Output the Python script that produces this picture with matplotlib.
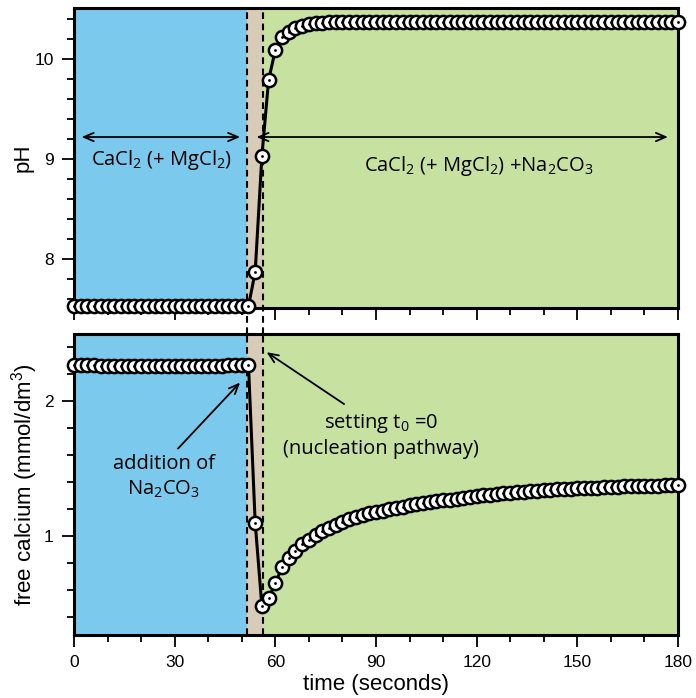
import matplotlib
matplotlib.use("Agg")
import matplotlib.pyplot as plt
from matplotlib.ticker import MultipleLocator

plt.rcParams['font.family'] = ['Liberation Sans', 'DejaVu Sans']
plt.rcParams['mathtext.default'] = 'regular'

# ---------------- data ----------------
time_s = list(range(0, 181, 2))

ph_values = [7.53] * 27 + [
    7.87, 9.03, 9.79, 10.09, 10.22, 10.27, 10.31, 10.33, 10.35, 10.36, 10.365,
] + [10.37] * 53

calcium_values = [
    2.27, 2.27, 2.27, 2.27, 2.26, 2.26, 2.26, 2.26, 2.26, 2.26, 2.26, 2.26, 2.26, 2.26,
    2.26, 2.26, 2.26, 2.26, 2.26, 2.26, 2.26, 2.26, 2.26, 2.27, 2.27, 2.27, 2.27,
    1.10, 0.48, 0.54, 0.65, 0.77, 0.84, 0.89, 0.94, 0.975, 1.005, 1.035, 1.06, 1.085,
    1.105, 1.125, 1.14, 1.155, 1.17, 1.18, 1.19, 1.20, 1.21, 1.22, 1.23, 1.237, 1.244,
    1.251, 1.258, 1.265, 1.272, 1.279, 1.285, 1.291, 1.297, 1.302, 1.307, 1.312, 1.317,
    1.322, 1.326, 1.330, 1.334, 1.338, 1.341, 1.344, 1.347, 1.350, 1.353, 1.355, 1.357,
    1.359, 1.361, 1.363, 1.365, 1.367, 1.369, 1.371, 1.372, 1.373, 1.374, 1.375, 1.377,
    1.378, 1.38,
]

t_addition = 51.7     # Na2CO3 added
t_zero = 56.2         # t0 = 0 (nucleation pathway)
x_limits = (0, 180)
x_ticks = [0, 30, 60, 90, 120, 150, 180]
ph_limits = (7.51, 10.51)
ph_ticks = [8, 9, 10]
ca_limits = (0.267, 2.5)
ca_ticks = [1, 2]

label_left = "CaCl$_2$ (+ MgCl$_2$)"
label_right = "CaCl$_2$ (+ MgCl$_2$) +Na$_2$CO$_3$"
label_addition = "addition of\nNa$_2$CO$_3$"
label_t0 = "setting t$_0$ =0\n(nucleation pathway)"

# ---------------- styling ----------------
c_blue = '#7BC9EC'
c_tan = '#D8CBB8'
c_green = '#C6E1A0'
note_font = ['Open Sans', 'DejaVu Sans']

fig = plt.figure(figsize=(6.96, 6.98), dpi=100)
ax1 = fig.add_axes([0.1063, 0.5587, 0.8678, 0.4298])
ax2 = fig.add_axes([0.1063, 0.0903, 0.8678, 0.4312])


def style(ax, ylim, yticks):
    ax.set_xlim(*x_limits)
    ax.set_ylim(*ylim)
    ax.axvspan(x_limits[0], t_addition, color=c_blue, lw=0, zorder=0)
    ax.axvspan(t_addition, t_zero, color=c_tan, lw=0, zorder=0)
    ax.axvspan(t_zero, x_limits[1], color=c_green, lw=0, zorder=0)
    ax.set_xticks(x_ticks)
    ax.set_yticks(yticks)
    ax.xaxis.set_minor_locator(MultipleLocator(10))
    ax.yaxis.set_minor_locator(MultipleLocator(0.2))
    ax.tick_params(which='major', direction='out', length=8.5, width=1.3,
                   labelsize=12.5, pad=6)
    ax.tick_params(which='minor', direction='out', length=5, width=1.3)
    for s in ax.spines.values():
        s.set_linewidth(2.2)


def draw_series(ax, xs, ys):
    ax.plot(xs, ys, color='k', lw=2.2, zorder=3)
    for i, (x, y) in enumerate(zip(xs, ys)):
        z = 5 + i * 0.01
        ax.plot(x, y, 'o', ms=9.5, mfc='white', mec='k', mew=1.8,
                zorder=z, clip_on=False)
        ax.plot(x, y, 'o', ms=2.0, color='k', mew=0, zorder=z + 0.005,
                clip_on=False)


style(ax1, ph_limits, ph_ticks)
style(ax2, ca_limits, ca_ticks)
ax1.tick_params(axis='x', labelbottom=False)

# dashed separators (top panel lines extend through the gap)
gap_frac = 0.0867
for tx in (t_addition, t_zero):
    ax1.axvline(tx, ymin=-gap_frac, ymax=1, color='k', lw=1.5,
                ls=(0, (3.2, 2.2)), clip_on=False, zorder=2)
    ax2.axvline(tx, ymin=0, ymax=1, color='k', lw=1.5,
                ls=(0, (3.2, 2.2)), zorder=2)

draw_series(ax1, time_s, ph_values)
draw_series(ax2, time_s, calcium_values)

ax1.set_ylabel('pH', fontsize=16, labelpad=1)
ax2.set_ylabel('free calcium (mmol/dm$^3$)', fontsize=16, labelpad=3)
ax2.set_xlabel('time (seconds)', fontsize=16, labelpad=3)

# top panel arrows and text
arrow_kw = dict(arrowstyle='<->,head_length=0.7,head_width=0.3', lw=1.3, color='k',
                shrinkA=0, shrinkB=0)
ax1.annotate('', xy=(2.3, 9.22), xytext=(49.5, 9.22), arrowprops=arrow_kw, zorder=4)
ax1.annotate('', xy=(54.4, 9.22), xytext=(177.0, 9.22), arrowprops=arrow_kw, zorder=4)
ax1.text(26.2, 8.99, label_left, ha='center', va='center', fontsize=14.5,
         family=note_font, zorder=4)
ax1.text(120.7, 8.93, label_right, ha='center', va='center', fontsize=14.5,
         family=note_font, zorder=4)

# bottom panel annotations
one_kw = dict(arrowstyle='->,head_length=0.7,head_width=0.3', lw=1.3, color='k',
              shrinkA=0, shrinkB=0)
ax2.annotate('', xy=(49.5, 2.14), xytext=(31.0, 1.65), arrowprops=one_kw, zorder=4)
ax2.annotate('', xy=(57.4, 2.365), xytext=(80.5, 1.98), arrowprops=one_kw, zorder=4)
ax2.text(26.8, 1.44, label_addition, ha='center', va='center', fontsize=14.5,
         family=note_font, linespacing=1.25, zorder=4)
ax2.text(91.5, 1.745, label_t0, ha='center', va='center', fontsize=14.5,
         family=note_font, linespacing=1.25, zorder=4)

fig.savefig('out.png', dpi=100)
